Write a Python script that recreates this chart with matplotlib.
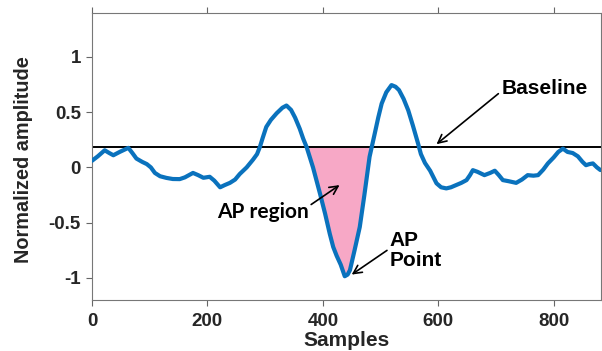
import numpy as np
import matplotlib
matplotlib.use("Agg")
import matplotlib.pyplot as plt

samples = np.array([0, 10, 22, 30, 37, 48, 63, 70, 77, 87, 95, 102, 109, 118, 129, 140, 152, 161, 168, 175,
                    184, 193, 204, 212, 222, 230, 239, 248, 256, 268, 279, 286, 291, 296, 302, 310, 320, 330,
                    337, 345, 352, 360, 366, 372, 383, 395, 404, 412, 418, 424, 431, 438, 443, 447, 455, 464,
                    472, 481, 490, 496, 502, 510, 519, 526, 532, 540, 548, 556, 565, 570, 577, 586, 597, 605,
                    614, 622, 631, 640, 649, 655, 660, 668, 680, 690, 698, 705, 712, 722, 735, 745, 755, 765,
                    773, 782, 790, 800, 808, 816, 824, 833, 842, 850, 856, 862, 868, 875, 881])
amplitude = np.array([0.06, 0.10, 0.155, 0.13, 0.11, 0.14, 0.177, 0.13, 0.08, 0.05, 0.03, 0.0, -0.05, -0.08,
                      -0.095, -0.105, -0.106, -0.09, -0.07, -0.05, -0.07, -0.094, -0.085, -0.12, -0.18, -0.16,
                      -0.14, -0.11, -0.06, 0.0, 0.07, 0.12, 0.186, 0.27, 0.366, 0.43, 0.49, 0.54, 0.56, 0.52,
                      0.45, 0.35, 0.26, 0.183, 0.0, -0.235, -0.42, -0.6, -0.72, -0.8, -0.88, -0.985, -0.97,
                      -0.93, -0.75, -0.54, -0.25, 0.096, 0.307, 0.45, 0.578, 0.68, 0.745, 0.73, 0.70, 0.62,
                      0.517, 0.38, 0.217, 0.12, 0.04, -0.03, -0.144, -0.18, -0.19, -0.18, -0.16, -0.14, -0.115,
                      -0.07, -0.025, -0.04, -0.07, -0.05, -0.03, -0.07, -0.115, -0.125, -0.14, -0.11, -0.07,
                      -0.075, -0.07, -0.02, 0.036, 0.09, 0.14, 0.17, 0.14, 0.13, 0.10, 0.05, 0.02, 0.03,
                      0.036, 0.0, -0.024])
baseline = 0.183
ap_start, ap_end = 370, 486

xticks = [0, 200, 400, 600, 800]
yticks = [-1, -0.5, 0, 0.5, 1]
ytick_labels = ["-1", "-0.5", "0", "0.5", "1"]

plt.rcParams['font.family'] = ['Liberation Sans', 'DejaVu Sans']

fig = plt.figure(figsize=(6.02, 3.51), dpi=100)
ax = fig.add_axes([0.1528, 0.1453, 0.8455, 0.8185])

mask = (samples >= ap_start) & (samples <= ap_end)
ax.fill_between(samples, amplitude, baseline, where=mask & (amplitude <= baseline + 1e-9),
                interpolate=True, color='#F7A8C6', linewidth=0, zorder=1)
ax.axhline(baseline, color='black', linewidth=1.4, zorder=2)
ax.plot(samples, amplitude, color='#0A72BD', linewidth=3.0, zorder=3, solid_joinstyle='round',
        solid_capstyle='round')

ax.set_xlim(0, 882)
ax.set_ylim(-1.2, 1.4)
ax.set_xticks(xticks)
ax.set_yticks(yticks)
ax.set_yticklabels(ytick_labels)
ax.tick_params(direction='out', top=True, right=True, length=4, width=0.8, color='#666666',
               labelsize=13.5, labelcolor='#262626')
ax.tick_params(axis='x', pad=5.5)
ax.tick_params(axis='y', pad=4)
for lab in ax.get_xticklabels() + ax.get_yticklabels():
    lab.set_fontweight('bold')
for s in ax.spines.values():
    s.set_color('#777777')
    s.set_linewidth(0.8)

ax.set_xlabel('Samples', fontsize=15, fontweight='bold', color='#262626')
ax.xaxis.set_label_coords(0.5, -0.108)
ax.set_ylabel('Normalized amplitude', fontsize=14.3, fontweight='bold', color='#262626')
ax.yaxis.set_label_coords(-0.116, 0.49)

ax.annotate('Baseline', xy=(597, 0.21), xytext=(709, 0.718), fontsize=15, fontweight='bold',
            va='center', ha='left',
            arrowprops=dict(arrowstyle='->', color='black', lw=1.2, shrinkA=0, shrinkB=0,
                            relpos=(-0.02, 0.25)))
ax.annotate('AP region', xy=(429, -0.16), xytext=(216, -0.405), fontsize=15, fontweight='bold',
            family=['Lato', 'DejaVu Sans'], va='center', ha='left',
            arrowprops=dict(arrowstyle='->', color='black', lw=1.2, shrinkA=0, shrinkB=0,
                            relpos=(1.02, 0.85)))
ax.annotate('AP\nPoint', xy=(450, -0.97), xytext=(516, -0.75), fontsize=15, fontweight='bold',
            va='center', ha='left', linespacing=1.05,
            arrowprops=dict(arrowstyle='->', color='black', lw=1.2, shrinkA=0, shrinkB=0,
                            relpos=(-0.05, 0.5)))

fig.savefig('out.png', dpi=100)
